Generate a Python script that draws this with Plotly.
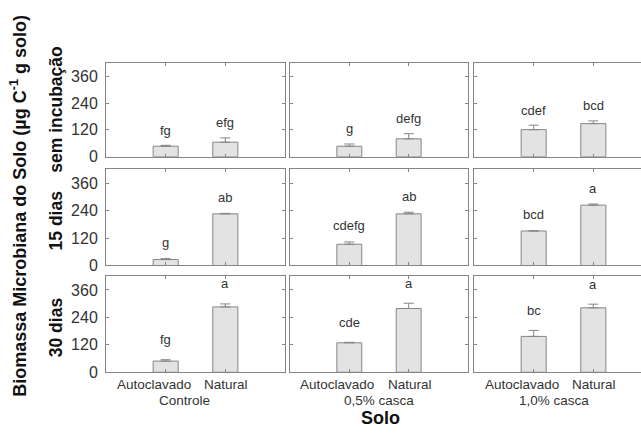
import plotly.graph_objects as go

# Soil treatments (columns), incubation times (rows), soil types (bars)
groups = ["Controle", "0,5% casca", "1,0% casca"]
periods = ["sem incubação", "15 dias", "30 dias"]
soils = ["Autoclavado", "Natural"]

# Microbial biomass (µg C g-1 soil) per period, per treatment: [Autoclavado, Natural]
biomass = [
    [[47, 65], [47, 80], [121, 148]],
    [[26, 226], [93, 226], [151, 264]],
    [[49, 286], [129, 279], [157, 282]],
]
# Upper error (standard error)
errors = [
    [[4, 19], [10, 23], [20, 12]],
    [[4, 2], [10, 7], [1, 5]],
    [[6, 13], [2, 23], [26, 16]],
]
# Tukey grouping letters
letters = [
    [["fg", "efg"], ["g", "defg"], ["cdef", "bcd"]],
    [["g", "ab"], ["cdefg", "ab"], ["bcd", "a"]],
    [["fg", "a"], ["cde", "a"], ["bc", "a"]],
]
y_ticks = [0, 120, 240, 360]

W, H = 641, 443
col_px = [(106, 285), (290, 468), (474, 641)]
row_px = [(64, 160), (173, 271), (282, 380)]
x_ranges = [[0, 3], [0, 3], [0, 3 * (641 - 474) / 179]]
letter_gap = [15, 16, 20]  # px between error-bar cap and letter, per row

FONT = "Liberation Sans, Arial, sans-serif"
LINE = "#858585"
TXT = "#333333"

fig = go.Figure()
layout = dict(
    width=W, height=H, margin=dict(l=0, r=0, t=0, b=0),
    paper_bgcolor="white", plot_bgcolor="white", showlegend=False,
    font=dict(family=FONT, color=TXT),
)
annotations = []

for r in range(3):
    for c in range(3):
        k = r * 3 + c + 1
        xa = "x" if k == 1 else f"x{k}"
        ya = "y" if k == 1 else f"y{k}"
        xs = [1, 2]
        fig.add_trace(go.Bar(
            x=xs, y=biomass[r][c], width=0.42,
            marker=dict(color="#e3e3e3", line=dict(color=LINE, width=1)),
            error_y=dict(type="data", array=errors[r][c], arrayminus=[0, 0],
                         symmetric=False, color=LINE, thickness=1, width=5),
            xaxis=xa, yaxis=ya, hoverinfo="skip",
        ))
        x0, x1 = col_px[c]
        y0, y1 = row_px[r]
        layout["xaxis" if k == 1 else f"xaxis{k}"] = dict(
            domain=[x0 / W, x1 / W], range=x_ranges[c], anchor=ya,
            tickvals=xs, showticklabels=False, ticks="inside", ticklen=3,
            tickcolor=LINE, showline=True, linecolor=LINE, linewidth=1,
            mirror="ticks", showgrid=False, zeroline=False, fixedrange=True,
        )
        layout["yaxis" if k == 1 else f"yaxis{k}"] = dict(
            domain=[1 - y1 / H, 1 - y0 / H], range=[0, 420], anchor=xa,
            tickvals=y_ticks, showticklabels=(c == 0), ticks="inside",
            ticklen=3, tickcolor=LINE, showline=True, linecolor=LINE,
            linewidth=1, mirror=("ticks" if c < 2 else False),
            showgrid=False, zeroline=False, fixedrange=True,
            tickfont=dict(size=16, color=TXT), ticklabelstandoff=4,
        )
        for i in range(2):
            annotations.append(dict(
                x=xs[i], y=biomass[r][c][i] + errors[r][c][i], xref=xa, yref=ya,
                text=letters[r][c][i], showarrow=False, yshift=letter_gap[r],
                xanchor="center", yanchor="middle",
                font=dict(size=13, color=TXT),
            ))
        if r == 2:
            for i, shift in zip(range(2), (-12, 1)):
                annotations.append(dict(
                    x=xs[i], y=1 - 392 / H, xref=xa, yref="paper",
                    text=soils[i], showarrow=False, xshift=shift,
                    xanchor="center", yanchor="middle",
                    font=dict(size=13.5, color=TXT),
                ))

# Treatment names under the bottom row
for name, cx in zip(groups, (184, 379, 554)):
    annotations.append(dict(
        x=cx / W, y=1 - 409 / H, xref="paper", yref="paper", text=name,
        showarrow=False, xanchor="center", yanchor="middle",
        font=dict(size=13.5, color=TXT),
    ))

# Period labels on the left of each row
for r, name in enumerate(periods):
    cy = (row_px[r][0] + row_px[r][1]) / 2 + (0 if r == 0 else 3)
    annotations.append(dict(
        x=56 / W, y=1 - cy / H, xref="paper", yref="paper",
        text=f"<b>{name}</b>", showarrow=False, textangle=-90,
        xanchor="center", yanchor="middle", font=dict(size=17.5, color="#111"),
    ))

# Shared axis titles
annotations.append(dict(
    x=19 / W, y=1 - 210 / H, xref="paper", yref="paper",
    text="<b>Biomassa Microbiana do Solo (µg C<sup>-1</sup> g solo)</b>",
    showarrow=False, textangle=-90, xanchor="center", yanchor="middle",
    font=dict(size=18, color="#111"),
))
annotations.append(dict(
    x=380 / W, y=1 - 427 / H, xref="paper", yref="paper", text="<b>Solo</b>",
    showarrow=False, xanchor="center", yanchor="middle",
    font=dict(size=18, color="#111"),
))

layout["annotations"] = annotations
fig.update_layout(**layout)
fig.write_html("out.html", config={"displayModeBar": False})
